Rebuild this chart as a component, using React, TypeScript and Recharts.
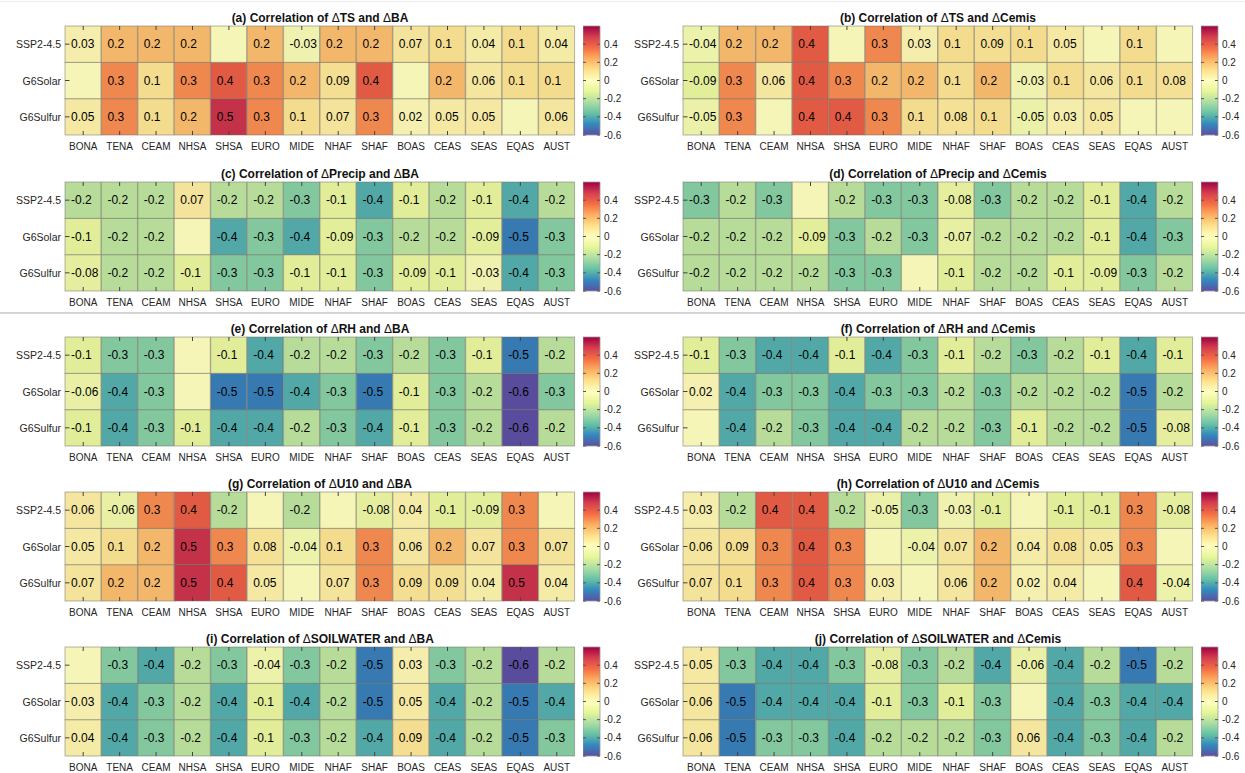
import { BarChart, Bar, XAxis, YAxis } from "recharts";

const REGIONS = ["BONA", "TENA", "CEAM", "NHSA", "SHSA", "EURO", "MIDE", "NHAF", "SHAF", "BOAS", "CEAS", "SEAS", "EQAS", "AUST"];
const SCENARIOS = ["SSP2-4.5", "G6Solar", "G6Sulfur"];
const CBAR_TICKS = [-0.6, -0.4, -0.2, 0, 0.2, 0.4];
const CBAR_RANGE = [-0.6, 0.6];

// rows: SSP2-4.5, G6Solar, G6Sulfur  (null = not labelled)
const TS_BA = [
  [0.03, 0.2, 0.2, 0.2, null, 0.2, -0.03, 0.2, 0.2, 0.07, 0.1, 0.04, 0.1, 0.04],
  [null, 0.3, 0.1, 0.3, 0.4, 0.3, 0.2, 0.09, 0.4, null, 0.2, 0.06, 0.1, 0.1],
  [0.05, 0.3, 0.1, 0.2, 0.5, 0.3, 0.1, 0.07, 0.3, 0.02, 0.05, 0.05, null, 0.06],
];
const TS_CEMIS = [
  [-0.04, 0.2, 0.2, 0.4, null, 0.3, 0.03, 0.1, 0.09, 0.1, 0.05, null, 0.1, null],
  [-0.09, 0.3, 0.06, 0.4, 0.3, 0.2, 0.2, 0.1, 0.2, -0.03, 0.1, 0.06, 0.1, 0.08],
  [-0.05, 0.3, null, 0.4, 0.4, 0.3, 0.1, 0.08, 0.1, -0.05, 0.03, 0.05, null, null],
];
const PRECIP_BA = [
  [-0.2, -0.2, -0.2, 0.07, -0.2, -0.2, -0.3, -0.1, -0.4, -0.1, -0.2, -0.1, -0.4, -0.2],
  [-0.1, -0.2, -0.2, null, -0.4, -0.3, -0.4, -0.09, -0.3, -0.2, -0.2, -0.09, -0.5, -0.3],
  [-0.08, -0.2, -0.2, -0.1, -0.3, -0.3, -0.1, -0.1, -0.3, -0.09, -0.1, -0.03, -0.4, -0.3],
];
const PRECIP_CEMIS = [
  [-0.3, -0.2, -0.3, null, -0.2, -0.3, -0.3, -0.08, -0.3, -0.2, -0.2, -0.1, -0.4, -0.2],
  [-0.2, -0.2, -0.2, -0.09, -0.3, -0.2, -0.3, -0.07, -0.2, -0.2, -0.2, -0.1, -0.4, -0.3],
  [-0.2, -0.2, -0.2, -0.2, -0.3, -0.3, null, -0.1, -0.2, -0.2, -0.1, -0.09, -0.3, -0.2],
];
const RH_BA = [
  [-0.1, -0.3, -0.3, null, -0.1, -0.4, -0.2, -0.2, -0.3, -0.2, -0.3, -0.1, -0.5, -0.2],
  [-0.06, -0.4, -0.3, null, -0.5, -0.5, -0.4, -0.3, -0.5, -0.1, -0.3, -0.2, -0.6, -0.3],
  [-0.1, -0.4, -0.3, -0.1, -0.4, -0.4, -0.2, -0.3, -0.4, -0.1, -0.3, -0.2, -0.6, -0.2],
];
const RH_CEMIS = [
  [-0.1, -0.3, -0.4, -0.4, -0.1, -0.4, -0.3, -0.1, -0.2, -0.3, -0.2, -0.1, -0.4, -0.1],
  [0.02, -0.4, -0.3, -0.3, -0.4, -0.3, -0.3, -0.2, -0.3, -0.2, -0.2, -0.2, -0.5, -0.2],
  [null, -0.4, -0.2, -0.3, -0.4, -0.4, -0.2, -0.2, -0.3, -0.1, -0.2, -0.2, -0.5, -0.08],
];
const U10_BA = [
  [0.06, -0.06, 0.3, 0.4, -0.2, null, -0.2, null, -0.08, 0.04, -0.1, -0.09, 0.3, null],
  [0.05, 0.1, 0.2, 0.5, 0.3, 0.08, -0.04, 0.1, 0.3, 0.06, 0.2, 0.07, 0.3, 0.07],
  [0.07, 0.2, 0.2, 0.5, 0.4, 0.05, null, 0.07, 0.3, 0.09, 0.09, 0.04, 0.5, 0.04],
];
const U10_CEMIS = [
  [0.03, -0.2, 0.4, 0.4, -0.2, -0.05, -0.3, -0.03, -0.1, null, -0.1, -0.1, 0.3, -0.08],
  [0.06, 0.09, 0.3, 0.4, 0.3, null, -0.04, 0.07, 0.2, 0.04, 0.08, 0.05, 0.3, null],
  [0.07, 0.1, 0.3, 0.4, 0.3, 0.03, null, 0.06, 0.2, 0.02, 0.04, null, 0.4, -0.04],
];
const SOIL_BA = [
  [null, -0.3, -0.4, -0.2, -0.3, -0.04, -0.3, -0.2, -0.5, 0.03, -0.3, -0.2, -0.6, -0.2],
  [0.03, -0.4, -0.3, -0.2, -0.4, -0.1, -0.4, -0.2, -0.5, 0.05, -0.4, -0.2, -0.5, -0.4],
  [0.04, -0.4, -0.3, -0.2, -0.4, -0.1, -0.3, -0.2, -0.4, 0.09, -0.4, -0.2, -0.5, -0.3],
];
const SOIL_CEMIS = [
  [0.05, -0.3, -0.4, -0.4, -0.3, -0.08, -0.3, -0.2, -0.4, -0.06, -0.4, -0.2, -0.5, -0.2],
  [0.06, -0.5, -0.4, -0.4, -0.4, -0.1, -0.3, -0.1, -0.3, null, -0.4, -0.3, -0.4, -0.4],
  [0.06, -0.5, -0.3, -0.3, -0.4, -0.2, -0.2, -0.2, -0.3, 0.06, -0.4, -0.3, -0.4, -0.2],
];

const TITLES = [
  "(a) Correlation of ΔTS and ΔBA",
  "(b) Correlation of ΔTS and ΔCemis",
  "(c) Correlation of ΔPrecip and ΔBA",
  "(d) Correlation of ΔPrecip and ΔCemis",
  "(e) Correlation of ΔRH and ΔBA",
  "(f) Correlation of ΔRH and ΔCemis",
  "(g) Correlation of ΔU10 and ΔBA",
  "(h) Correlation of ΔU10 and ΔCemis",
  "(i) Correlation of ΔSOILWATER and ΔBA",
  "(j) Correlation of ΔSOILWATER and ΔCemis",
];
const PANEL_VALUES = [TS_BA, TS_CEMIS, PRECIP_BA, PRECIP_CEMIS, RH_BA, RH_CEMIS, U10_BA, U10_CEMIS, SOIL_BA, SOIL_CEMIS];

// spectral colormap, low -> high
const SPECTRAL = ["#5e4fa2", "#3288bd", "#66c2a5", "#abdda4", "#e6f598", "#ffffbf", "#fee08b", "#fdae61", "#f46d43", "#d53e4f", "#9e0142"];

const FONT = "'Liberation Sans', Arial, Helvetica, sans-serif";
const PLOT_W = 510;
const PLOT_H = 109;
const PLOT_LEFT = [65, 683];
const PLOT_TOP = [26, 182, 337, 492, 647];
const AXIS_L = 64;
const AXIS_B = 20;
const AXIS_T = 1;
const AXIS_R = 1;
const CB_W = 17;

const hexRgb = (h: string) => [1, 3, 5].map((i) => parseInt(h.slice(i, i + 2), 16));

function colorFor(v: number | null) {
  const [lo, hi] = CBAR_RANGE;
  let t = ((v ?? 0) - lo) / (hi - lo);
  t = Math.max(0, Math.min(1, t)) * (SPECTRAL.length - 1);
  const i = Math.min(Math.floor(t), SPECTRAL.length - 2);
  const f = t - i;
  const a = hexRgb(SPECTRAL[i]);
  const b = hexRgb(SPECTRAL[i + 1]);
  // slightly muted, like the exported figure
  const c = a.map((x, k) => Math.round((x + (b[k] - x) * f) * 0.96));
  return `rgb(${c[0]},${c[1]},${c[2]})`;
}

const cellShape = (key: string) => (props: any) => {
  const { x, y, width, height, payload } = props;
  const v = payload[key];
  return (
    <g>
      <rect x={x} y={y} width={width} height={height} fill={colorFor(v)} stroke="rgba(110,110,100,0.5)" strokeWidth={1} />
      {v !== null && (
        <text x={x + 6} y={y + height / 2} dominantBaseline="central" fontSize={12} fontFamily={FONT} fill="#000">
          {String(v)}
        </text>
      )}
    </g>
  );
};

const BottomTick = ({ x, y, payload }: any) => (
  <g>
    <line x1={x} x2={x} y1={y} y2={y - 4} stroke="#444" />
    <text x={x} y={y + 11} textAnchor="middle" dominantBaseline="central" fontSize={10} fontFamily={FONT} fill="#262626">
      {payload.value}
    </text>
  </g>
);
const TopTick = ({ x, y }: any) => <line x1={x} x2={x} y1={y} y2={y + 4} stroke="#444" />;
const LeftTick = ({ x, y, payload }: any) => (
  <g>
    <line x1={x} x2={x + 4.5} y1={y} y2={y} stroke="#444" />
    <text x={x - 4} y={y} textAnchor="end" dominantBaseline="central" fontSize={10.5} fontFamily={FONT} fill="#262626">
      {SCENARIOS[2 - Math.floor(payload.value)]}
    </text>
  </g>
);
const RightTick = ({ x, y }: any) => <line x1={x} x2={x - 4.5} y1={y} y2={y} stroke="#444" />;

function Heatmap({ values, left, top }: { values: (number | null)[][]; left: number; top: number }) {
  // stacked bottom -> top: G6Sulfur, G6Solar, SSP2-4.5
  const data = REGIONS.map((r, i) => ({
    region: r,
    h0: 1,
    h1: 1,
    h2: 1,
    v0: values[2][i],
    v1: values[1][i],
    v2: values[0][i],
  }));
  return (
    <div style={{ position: "absolute", left: left - AXIS_L, top: top - AXIS_T }}>
      <BarChart
        width={AXIS_L + PLOT_W + AXIS_R}
        height={AXIS_T + PLOT_H + AXIS_B}
        data={data}
        margin={{ top: 0, right: 0, bottom: 0, left: 0 }}
        barCategoryGap={0}
        barGap={0}
      >
        <Bar dataKey="h0" stackId="s" isAnimationActive={false} shape={cellShape("v0")} />
        <Bar dataKey="h1" stackId="s" isAnimationActive={false} shape={cellShape("v1")} />
        <Bar dataKey="h2" stackId="s" isAnimationActive={false} shape={cellShape("v2")} />
        <XAxis dataKey="region" height={AXIS_B} interval={0} tickSize={0} tickMargin={0} axisLine={false} tickLine={false} tick={<BottomTick />} />
        <XAxis xAxisId="top" orientation="top" dataKey="region" height={AXIS_T} interval={0} tickSize={0} tickMargin={0} axisLine={false} tickLine={false} tick={<TopTick />} />
        <YAxis type="number" domain={[0, 3]} ticks={[0.5, 1.5, 2.5]} width={AXIS_L} interval={0} tickSize={0} tickMargin={0} axisLine={false} tickLine={false} tick={<LeftTick />} />
        <YAxis yAxisId="r" orientation="right" type="number" domain={[0, 3]} ticks={[0.5, 1.5, 2.5]} width={AXIS_R} interval={0} tickSize={0} tickMargin={0} axisLine={false} tickLine={false} tick={<RightTick />} />
      </BarChart>
    </div>
  );
}

const CbTick = ({ x, y, payload }: any) => (
  <g>
    <line x1={x} x2={x - 3} y1={y} y2={y} stroke="#555" />
    <line x1={x - CB_W} x2={x - CB_W + 3} y1={y} y2={y} stroke="#555" />
    <text x={x + 4} y={y} dominantBaseline="central" fontSize={10} fontFamily={FONT} fill="#262626">
      {String(payload.value)}
    </text>
  </g>
);

function Colorbar({ id, left, top }: { id: string; left: number; top: number }) {
  const pad = 8;
  return (
    <div style={{ position: "absolute", left, top: top - pad }}>
      <BarChart
        width={CB_W + 30}
        height={PLOT_H + 2 * pad}
        data={[{ name: "cb", range: CBAR_RANGE }]}
        margin={{ top: pad, right: 0, bottom: pad, left: 0 }}
        barCategoryGap={0}
      >
        <defs>
          <linearGradient id={id} x1="0" y1="1" x2="0" y2="0">
            {SPECTRAL.map((c, i) => (
              <stop key={c} offset={i / (SPECTRAL.length - 1)} stopColor={c} />
            ))}
          </linearGradient>
        </defs>
        <XAxis dataKey="name" hide />
        <YAxis orientation="right" type="number" domain={CBAR_RANGE} ticks={CBAR_TICKS} width={30} interval={0} tickSize={0} tickMargin={0} axisLine={false} tickLine={false} tick={<CbTick />} />
        <Bar dataKey="range" fill={`url(#${id})`} stroke="#999" strokeWidth={0.8} isAnimationActive={false} />
      </BarChart>
    </div>
  );
}

// the Δ glyphs in the titles are drawn in regular weight
const Title = ({ text }: { text: string }) => (
  <>
    {text.split("Δ").map((part, k) => (
      <span key={k}>
        {k > 0 && <span style={{ fontWeight: "normal" }}>Δ</span>}
        {part}
      </span>
    ))}
  </>
);

export default function App() {
  return (
    <div style={{ position: "absolute", left: 0, top: 0, width: 1245, height: 773, background: "#fff", fontFamily: FONT, overflow: "hidden" }}>
      <div style={{ position: "absolute", left: 0, top: 1, width: 1245, height: 1, background: "#ececec" }} />
      <div style={{ position: "absolute", left: 0, top: 312, width: 1245, height: 2, background: "#d6d6d6" }} />
      {PANEL_VALUES.map((values, i) => {
        const left = PLOT_LEFT[i % 2];
        const top = PLOT_TOP[Math.floor(i / 2)];
        return (
          <div key={TITLES[i]}>
            <div
              style={{
                position: "absolute",
                left,
                top: top - 15,
                width: PLOT_W,
                textAlign: "center",
                fontSize: 12,
                lineHeight: "14px",
                fontWeight: "bold",
                color: "#111",
                whiteSpace: "nowrap",
              }}
            >
              <Title text={TITLES[i]} />
            </div>
            <Heatmap values={values} left={left} top={top} />
            <Colorbar id={`cb${i}`} left={left + PLOT_W + 8} top={top} />
          </div>
        );
      })}
    </div>
  );
}
